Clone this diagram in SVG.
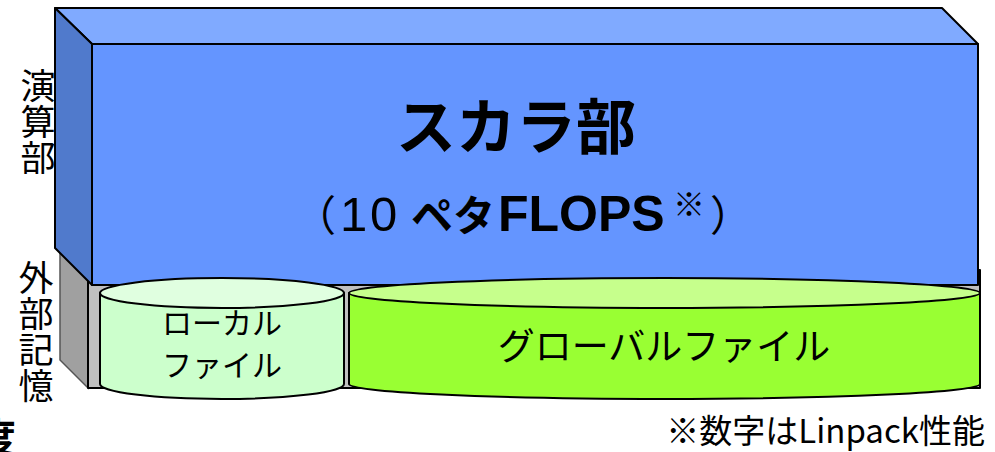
<svg xmlns="http://www.w3.org/2000/svg" width="995" height="452" viewBox="0 0 995 452">
<style>
.jp{font-family:"Noto Sans CJK JP","Noto Sans",sans-serif;fill:#000}
.lat{font-family:"Liberation Sans","Noto Sans CJK JP",sans-serif;fill:#000}
.vt{writing-mode:vertical-rl;text-orientation:upright}
.ln{stroke:#000;stroke-width:2;stroke-linejoin:round}
</style>
<rect width="995" height="452" fill="#fff"/>
<g id="side-labels" class="jp" font-size="35">
<text x="38" y="68" class="jp vt" letter-spacing="1">演算部</text>
<text x="36" y="260" class="jp vt" letter-spacing="1">外部記憶</text>
</g>
<g id="storage-base">
<polygon points="60,250 88,278 88,388 60,360" fill="#a0a0a0" stroke="#555" stroke-width="1.5"/>
<rect x="88" y="270" width="892" height="118" fill="#c0c0c0" class="ln"/>
</g>
<g id="scalar-unit">
<polygon points="55,8 942,8 978,44 92,44" fill="#80aaff" class="ln"/>
<polygon points="55,8 92,44 92,285 55,248" fill="#507acc" class="ln"/>
<rect x="92" y="44" width="886" height="241" fill="#6495ff" class="ln"/>
<text x="516" y="149" class="jp" font-size="60" font-weight="bold" text-anchor="middle">スカラ部</text>
<text y="231" font-size="42"><tspan x="294" class="jp">（</tspan><tspan x="340 370" class="lat" font-size="49">10</tspan><tspan x="411" class="jp" font-weight="bold">ペタ</tspan><tspan x="498" class="lat" font-size="50" font-weight="bold">FLOPS</tspan><tspan x="673" y="216" class="jp" font-size="32">※</tspan><tspan x="710" y="231" class="jp">）</tspan></text>
</g>
<g id="local-file">
<path d="M100,293 L100,384 A122,15 0 0 0 344,384 L344,293 Z" fill="#ccffcc" class="ln"/>
<ellipse cx="222" cy="293" rx="122" ry="15" fill="#e0ffe0" class="ln"/>
<text x="222" y="334" class="jp" font-size="30" text-anchor="middle">ローカル</text>
<text x="222" y="376" class="jp" font-size="30" text-anchor="middle">ファイル</text>
</g>
<g id="global-file">
<path d="M349,293 L349,384 A315.5,15 0 0 0 980,384 L980,293 Z" fill="#99ff33" class="ln"/>
<ellipse cx="664.5" cy="293" rx="315.5" ry="15" fill="#c6ff8c" class="ln"/>
<text x="664" y="360" class="jp" font-size="37" text-anchor="middle">グローバルファイル</text>
</g>
<g id="connectors"/>
<g id="notes">
<text x="985" y="443" class="jp" font-size="33" text-anchor="end">※数字はLinpack性能</text>
<text x="-24" y="452" class="jp" font-size="40" font-weight="bold">度</text>
</g>
</svg>
